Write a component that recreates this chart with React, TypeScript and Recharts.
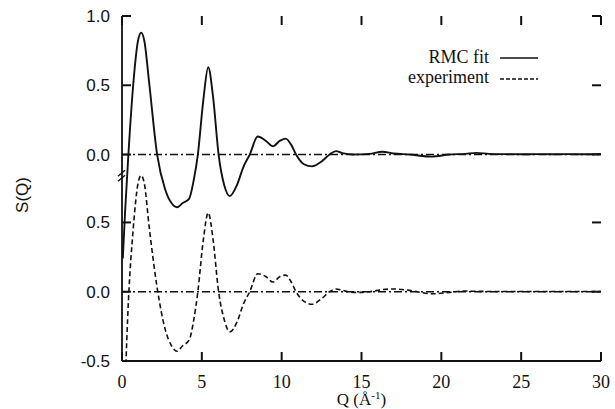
import { LineChart, Line, XAxis, YAxis, ReferenceLine, ReferenceDot, Legend } from "recharts";

// Q grid (Å^-1) shared by both curves
const qValues = [
  0.05, 0.2, 0.4, 0.7, 1.0, 1.2, 1.4, 1.7, 2.2, 2.7, 3.1, 3.45, 3.8, 4.2, 4.5, 4.75,
  5.1, 5.4, 5.7, 6.05, 6.4, 6.75, 7.2, 7.6, 8.0, 8.5, 9.0, 9.45, 9.9, 10.25, 10.6,
  10.9, 11.4, 11.9, 12.5, 13.0, 13.4, 13.8, 14.5, 15.5, 16.3, 17.0, 18.0, 19.4, 20.5,
  21.5, 22.2, 23.0, 24.0, 25.0, 26.0, 27.0, 28.0, 29.0, 30.0,
];

// upper panel, solid
const rmcFit = [
  -0.75, -0.4, 0.0, 0.5, 0.82, 0.88, 0.82, 0.52, 0.0, -0.25, -0.35, -0.38, -0.35, -0.32, -0.18, 0.0,
  0.4, 0.63, 0.42, 0.0, -0.22, -0.3, -0.22, -0.09, 0.0, 0.13, 0.1, 0.06, 0.1, 0.115, 0.07,
  0.0, -0.07, -0.085, -0.05, 0.0, 0.025, 0.01, 0.0, 0.005, 0.02, 0.008, 0.0, -0.015, 0.0,
  0.005, 0.012, 0.005, 0.003, 0.002, 0.003, 0.002, 0.003, 0.002, 0.005,
];

// lower panel, dashed
const experiment = [
  -1.1, -0.65, -0.07, 0.45, 0.78, 0.84, 0.78, 0.47, 0.03, -0.27, -0.39, -0.43, -0.39, -0.35, -0.2, 0.0,
  0.38, 0.57, 0.38, 0.0, -0.2, -0.29, -0.22, -0.09, 0.0, 0.13, 0.11, 0.07, 0.11, 0.12, 0.07,
  0.0, -0.07, -0.09, -0.05, 0.0, 0.02, 0.01, -0.005, 0.0, 0.015, 0.02, 0.01, -0.015, -0.005,
  0.005, 0.003, 0.002, 0.002, 0.002, 0.002, 0.002, 0.002, 0.002, 0.002,
];

const xTicks = [0, 5, 10, 15, 20, 25, 30];
const lowerTicks = [-0.5, 0, 0.5];
const upperTicks = [0, 0.5, 1.0];

// vertical shift of the upper panel on the shared axis
const OFFSET = 0.99;

const yTicks = [...lowerTicks, ...upperTicks.map((t) => t + OFFSET)];
const yLabel = (v: number) => (v > OFFSET - 0.25 ? v - OFFSET : v).toFixed(1);
const xDomain = [0, 30];
const yDomain = [-0.5, 1.0 + OFFSET];

const data = qValues.map((q, i) => ({
  q,
  fit: rmcFit[i] + OFFSET,
  exp: experiment[i],
}));

const sans = "Liberation Sans, Arial, sans-serif";
const serif = "Liberation Serif, Times New Roman, serif";
const ink = "#111";
const dashDot = "8 3 2 3";
const frame = { stroke: ink, strokeWidth: 1.8 };
const TICK = 9;

// inward tick marks, drawn at the scaled tick position
const tickMark = (dx: number, dy: number) => (props: any) => {
  const { cx, cy } = props;
  return (
    <g stroke={ink} strokeWidth={2}>
      <line x1={cx} y1={cy} x2={cx + dx} y2={cy + dy} />
    </g>
  );
};
const upMark = tickMark(0, -TICK);
const downMark = tickMark(0, TICK);
const rightMark = tickMark(TICK, 0);
const leftMark = tickMark(-TICK, 0);

function LegendBox() {
  return (
    <svg width={150} height={50}>
      <text x={89} y={23} textAnchor="end" fontFamily={serif} fontSize={18} fill={ink}>
        RMC fit
      </text>
      <line x1={100} x2={138} y1={18} y2={18} stroke={ink} strokeWidth={1.5} />
      <text x={89} y={43} textAnchor="end" fontFamily={serif} fontSize={18} fill={ink}>
        experiment
      </text>
      <line x1={100} x2={138} y1={39} y2={39} stroke={ink} strokeWidth={1.5} strokeDasharray="4 2" />
    </svg>
  );
}

function AxisBreak(props: any) {
  const { cx, cy } = props;
  return (
    <g stroke={ink} strokeWidth={1.4}>
      <line x1={cx - 4} y1={cy + 1} x2={cx + 3} y2={cy - 5} />
      <line x1={cx - 4} y1={cy + 6} x2={cx + 3} y2={cy} />
    </g>
  );
}

export default function App() {
  const ids = { xAxisId: "bottom", yAxisId: "left" };
  return (
    <div style={{ position: "absolute", left: 0, top: 0, background: "#fff" }}>
      <LineChart width={615} height={409} data={data} margin={{ top: 16, right: 14, left: 0, bottom: 0 }}>
        <XAxis
          xAxisId="bottom"
          dataKey="q"
          type="number"
          domain={xDomain}
          ticks={xTicks}
          interval={0}
          height={48}
          tickSize={-7}
          tickMargin={21}
          axisLine={frame}
          tickLine={false}
          tick={{ fill: ink, fontSize: 18, fontFamily: serif }}
          label={{
            content: (p: any) => {
              const vb = p.viewBox || {};
              return (
                <text
                  x={vb.x + vb.width / 2}
                  y={vb.y + 44}
                  textAnchor="middle"
                  fontFamily={serif}
                  fontSize={17}
                  fill={ink}
                >
                  Q  (Å
                  <tspan dy={-6} fontSize={11}>-1</tspan>
                  <tspan dy={6}>)</tspan>
                </text>
              );
            },
          }}
        />
        <XAxis
          xAxisId="top"
          orientation="top"
          type="number"
          domain={xDomain}
          ticks={xTicks}
          height={0}
          axisLine={frame}
          tickLine={false}
          tick={false}
        />
        <YAxis
          yAxisId="left"
          type="number"
          domain={yDomain}
          allowDataOverflow
          ticks={yTicks}
          interval={0}
          width={122}
          tickSize={-7}
          tickMargin={19}
          tickFormatter={yLabel}
          axisLine={frame}
          tickLine={false}
          tick={{ fill: ink, fontSize: 17, fontFamily: sans }}
          label={{
            content: () => (
              <text
                x={22}
                y={195}
                transform="rotate(-90 22 195)"
                textAnchor="middle"
                dominantBaseline="central"
                fontFamily={sans}
                fontSize={17}
                fill={ink}
              >
                S(Q)
              </text>
            ),
          }}
        />
        <YAxis
          yAxisId="right"
          orientation="right"
          type="number"
          domain={yDomain}
          ticks={yTicks}
          width={0}
          axisLine={frame}
          tickLine={false}
          tick={false}
        />

        <ReferenceLine {...ids} y={0} stroke={ink} strokeWidth={1.4} strokeDasharray={dashDot} />
        <ReferenceLine {...ids} y={OFFSET} stroke={ink} strokeWidth={1.4} strokeDasharray={dashDot} />
        <Line
          {...ids}
          type="monotone"
          dataKey="fit"
          name="RMC fit"
          stroke={ink}
          strokeWidth={1.9}
          dot={false}
          isAnimationActive={false}
        />
        <Line
          {...ids}
          type="monotone"
          dataKey="exp"
          name="experiment"
          stroke={ink}
          strokeWidth={1.6}
          strokeDasharray="5 3"
          dot={false}
          isAnimationActive={false}
        />

        {/* inward tick marks on the four sides of the frame */}
        {xTicks.map((t) => (
          <ReferenceDot key={`b${t}`} {...ids} x={t} y={yDomain[0]} ifOverflow="visible" shape={upMark} />
        ))}
        {xTicks.map((t) => (
          <ReferenceDot key={`t${t}`} {...ids} x={t} y={yDomain[1]} ifOverflow="visible" shape={downMark} />
        ))}
        {yTicks.map((t) => (
          <ReferenceDot key={`l${t}`} {...ids} x={xDomain[0]} y={t} ifOverflow="visible" shape={rightMark} />
        ))}
        {yTicks.map((t) => (
          <ReferenceDot key={`r${t}`} {...ids} x={xDomain[1]} y={t} ifOverflow="visible" shape={leftMark} />
        ))}

        <ReferenceDot {...ids} x={0} y={0.84} ifOverflow="visible" shape={AxisBreak} />
        <Legend
          layout="vertical"
          align="center"
          verticalAlign="middle"
          content={() => <LegendBox />}
          wrapperStyle={{ position: "absolute", left: 400, top: 40, width: 150, height: 50 }}
        />
      </LineChart>
    </div>
  );
}
